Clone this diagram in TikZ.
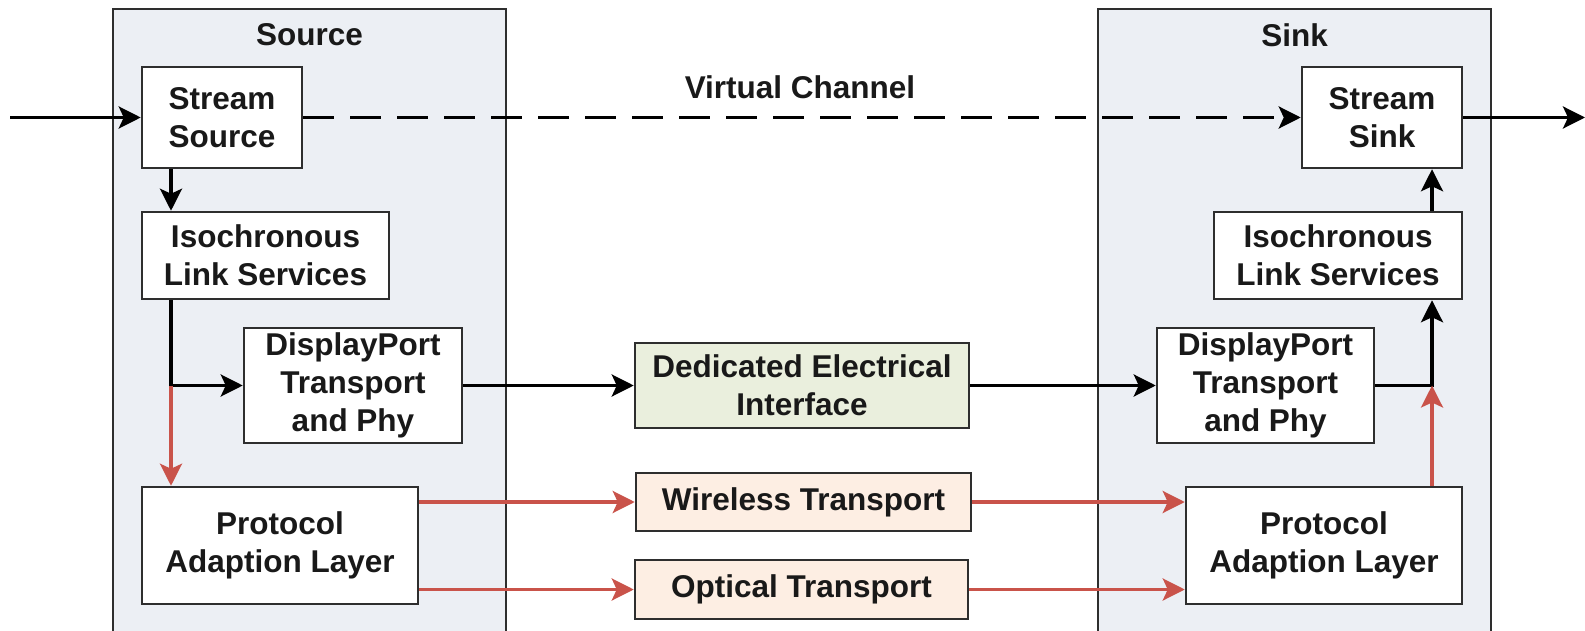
\documentclass[tikz,border=0pt]{standalone}
\usepackage{fontspec}
\setmainfont{Liberation Sans}
\usetikzlibrary{arrows.meta}
\definecolor{panelfill}{HTML}{ECEFF4}
\definecolor{greenfill}{HTML}{EAEFDD}
\definecolor{peachfill}{HTML}{FDEEE3}
\definecolor{redline}{HTML}{C9534A}
\definecolor{bordergray}{HTML}{2E2E2E}
\tikzset{
  txt/.style={font=\fontsize{31.5}{38}\selectfont\bfseries, text=black!90},
  blk/.style={txt, draw=bordergray, line width=2.5pt, fill=white, align=center, inner sep=0pt},
  panel/.style={draw=bordergray, line width=2.5pt, fill=panelfill},
  conn/.style={line width=3.3pt, draw=black, -{Stealth[length=22pt,width=22pt,inset=5pt]}},
  rconn/.style={line width=3.3pt, draw=redline, -{Stealth[length=22pt,width=22pt,inset=5pt]}},
}
\begin{document}
\begin{tikzpicture}[x=1pt,y=-1pt]
\useasboundingbox (0,0) rectangle (1585,631);
\clip (0,0) rectangle (1585,631);
% panels
\path[panel] (113,9) rectangle (506,650);
\path[panel] (1098,9) rectangle (1491,650);
\node[txt] (srclabel) at (309.5,35) {Source};
\node[txt] (sinklabel) at (1294.5,35) {Sink};
% source side
\node[blk, minimum width=160pt, minimum height=101pt] (ss) at (222,117.5) {Stream\\Source};
\node[blk, minimum width=247pt, minimum height=87pt] (sil) at (265.5,255.5) {Isochronous\\Link Services};
\node[blk, minimum width=218pt, minimum height=115pt] (sdp) at (353,385.5) {DisplayPort\\Transport\\and Phy};
\node[blk, minimum width=276pt, minimum height=117pt] (spal) at (280,545.5) {Protocol\\Adaption Layer};
% middle
\node[blk, fill=greenfill, minimum width=334pt, minimum height=85pt] (ded) at (802,385.5) {Dedicated Electrical\\Interface};
\node[blk, fill=peachfill, minimum width=335pt, minimum height=58pt] (wir) at (803.5,502) {Wireless Transport};
\node[blk, fill=peachfill, minimum width=333pt, minimum height=59pt] (opt) at (801.5,589.5) {Optical Transport};
% sink side
\node[blk, minimum width=160pt, minimum height=101pt] (sk) at (1382,117.5) {Stream\\Sink};
\node[blk, minimum width=248pt, minimum height=87pt] (kil) at (1338,255.5) {Isochronous\\Link Services};
\node[blk, minimum width=217pt, minimum height=115pt] (kdp) at (1265.5,385.5) {DisplayPort\\Transport\\and Phy};
\node[blk, minimum width=276pt, minimum height=117pt] (kpal) at (1324,545.5) {Protocol\\Adaption Layer};
% virtual channel
\node[txt] (vc) at (800,87) {Virtual Channel};
% coordinates
\coordinate (in) at (10,117.5);
\coordinate (out) at (1585,117.5);
\coordinate (j1) at (171,385.5);
\coordinate (j2) at (1432,385.5);
% connectors
\draw[conn] (in) -- (ss.west);
\draw[conn, dash pattern=on 31pt off 16pt] (ss.east) -- (sk.west);
\draw[conn] (sk.east) -- (out);
\draw[conn] (ss.south -| j1) -- (sil.north -| j1);
\draw[conn] (sil.south -| j1) -- (j1) -- (sdp.west);
\draw[rconn] (j1) -- (spal.north -| j1);
\draw[conn] (sdp.east) -- (ded.west);
\draw[conn] (ded.east) -- (kdp.west);
\draw[conn] (kdp.east) -- (j2) -- (kil.south -| j2);
\draw[conn] (kil.north -| j2) -- (sk.south -| j2);
\draw[rconn] (kpal.north -| j2) -- (j2);
\draw[rconn] (spal.east |- wir.west) -- (wir.west);
\draw[rconn] (wir.east) -- (kpal.west |- wir.east);
\draw[rconn] (spal.east |- opt.west) -- (opt.west);
\draw[rconn] (opt.east) -- (kpal.west |- opt.east);
\end{tikzpicture}
\end{document}
